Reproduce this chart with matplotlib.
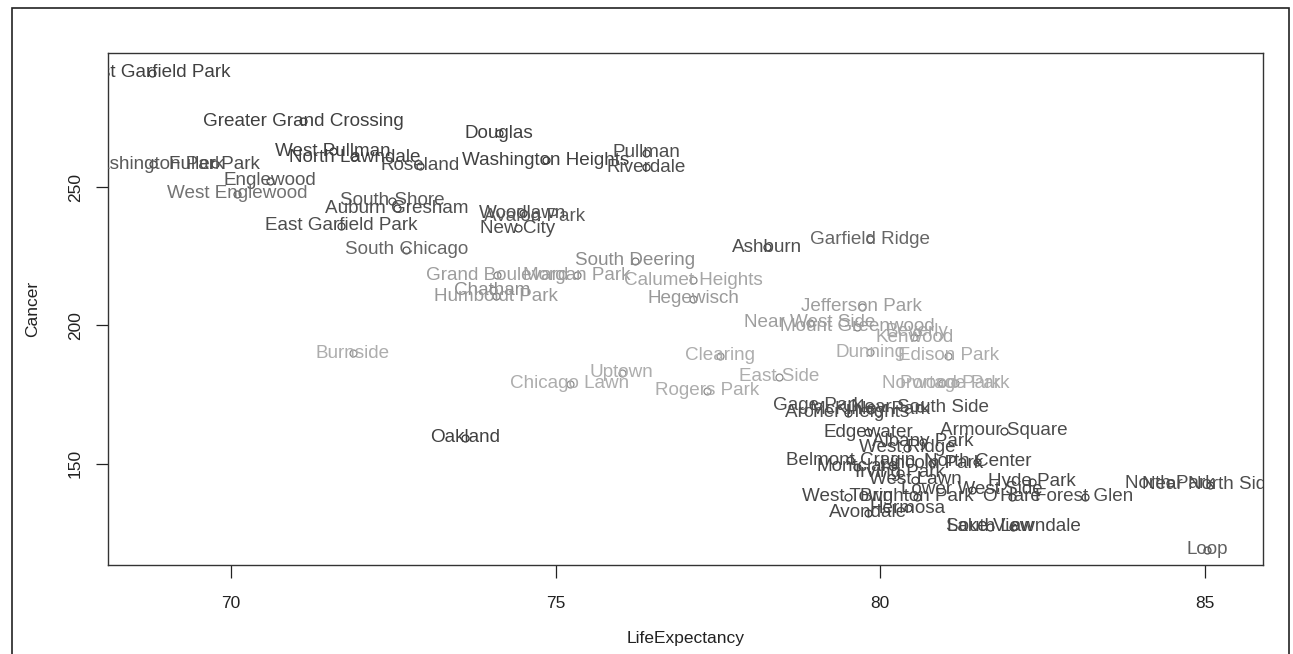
import matplotlib
matplotlib.use("Agg")
import matplotlib.pyplot as plt
from matplotlib.patches import Rectangle

plt.rcParams["font.family"] = ["Liberation Sans", "DejaVu Sans"]

# community areas: life expectancy vs cancer death rate
areas = [
    "West Garfield Park", "Greater Grand Crossing", "Douglas", "West Pullman",
    "North Lawndale", "Roseland", "Washington Park", "Fuller Park",
    "Englewood", "West Englewood", "South Shore", "Auburn Gresham",
    "East Garfield Park", "South Chicago", "Woodlawn", "Avalon Park",
    "New City", "Washington Heights", "Pullman", "Riverdale",
    "Ashburn", "Garfield Ridge", "South Deering", "Grand Boulevard",
    "Morgan Park", "Calumet Heights", "Chatham", "Humboldt Park",
    "Hegewisch", "Jefferson Park", "Near West Side", "Mount Greenwood",
    "Beverly", "Kenwood", "Dunning", "Edison Park",
    "Norwood Park", "Portage Park", "Burnside", "Clearing",
    "Uptown", "Chicago Lawn", "Rogers Park", "East Side",
    "Oakland", "Gage Park", "Archer Heights", "McKinley Park",
    "Near South Side", "Edgewater", "Armour Square", "Albany Park",
    "West Ridge", "Belmont Cragin", "North Center", "Montclare",
    "Irving Park", "Lincoln Park", "West Lawn", "Hyde Park",
    "Lower West Side", "West Town", "Brighton Park", "O'Hare",
    "Forest Glen", "Hermosa", "Avondale", "South Lawndale",
    "Lake View", "North Park", "Near North Side", "Loop",
]
life_expectancy = [
    68.78, 71.11, 74.13, 71.57,
    71.90, 72.91, 68.80, 69.75,
    70.60, 70.09, 72.48, 72.56,
    71.70, 72.70, 74.50, 74.68,
    74.42, 74.85, 76.40, 76.40,
    78.26, 79.85, 76.22, 74.10,
    75.33, 77.12, 74.03, 74.08,
    77.12, 79.72, 78.92, 79.65,
    80.57, 80.53, 79.85, 81.05,
    80.95, 81.15, 71.88, 77.53,
    76.02, 75.22, 77.33, 78.45,
    73.60, 79.04, 79.50, 79.85,
    80.62, 79.82, 81.91, 80.66,
    80.42, 79.54, 81.50, 79.65,
    80.30, 80.80, 80.54, 82.34,
    81.42, 79.50, 80.57, 82.03,
    83.15, 80.43, 79.81, 82.05,
    81.70, 84.47, 85.08, 85.04,
]
cancer = [
    291.2, 273.8, 269.5, 263.0,
    260.8, 257.6, 258.3, 258.3,
    252.2, 247.5, 245.0, 242.4,
    236.0, 227.3, 240.6, 239.5,
    235.2, 259.7, 262.3, 257.2,
    228.3, 231.2, 223.3, 218.2,
    218.2, 216.4, 212.8, 210.6,
    209.6, 206.7, 200.9, 199.5,
    197.7, 195.8, 190.4, 189.0,
    179.2, 179.2, 190.0, 189.0,
    182.9, 178.9, 176.4, 181.4,
    159.4, 171.0, 168.4, 169.5,
    170.2, 161.5, 161.9, 158.0,
    155.8, 151.4, 150.7, 148.9,
    146.8, 150.2, 144.2, 143.5,
    140.6, 138.1, 138.1, 138.1,
    138.1, 134.0, 132.3, 127.3,
    127.3, 143.1, 142.4, 119.0,
]
# grey level of each label (0 = black, 1 = white)
label_grey = [
    0.25, 0.25, 0.25, 0.25,
    0.25, 0.30, 0.35, 0.30,
    0.35, 0.45, 0.35, 0.30,
    0.30, 0.40, 0.30, 0.35,
    0.30, 0.25, 0.30, 0.30,
    0.30, 0.40, 0.55, 0.62,
    0.62, 0.65, 0.55, 0.60,
    0.60, 0.62, 0.62, 0.62,
    0.65, 0.65, 0.68, 0.68,
    0.68, 0.68, 0.68, 0.68,
    0.68, 0.68, 0.68, 0.68,
    0.25, 0.30, 0.30, 0.30,
    0.30, 0.28, 0.30, 0.28,
    0.28, 0.28, 0.28, 0.28,
    0.28, 0.28, 0.28, 0.28,
    0.28, 0.28, 0.28, 0.28,
    0.30, 0.28, 0.28, 0.28,
    0.28, 0.30, 0.30, 0.38,
]

x_ticks = [70, 75, 80, 85]
y_ticks = [150, 200, 250]

W, H = 1293, 654
fig = plt.figure(figsize=(W / 100, H / 100), dpi=100)
ax = fig.add_axes([108 / W, 1 - 565 / H, (1263 - 108) / W, (565 - 53) / H])

for name, x, y, g in zip(areas, life_expectancy, cancer, label_grey):
    c = (g, g, g)
    ax.plot(x, y, "o", mfc="none", mec=(g * 0.8,) * 3, ms=5, mew=0.9,
            clip_on=True)
    ax.text(x, y, name, color=c, fontsize=13.6, ha="center", va="center",
            clip_on=True)

ax.set_xlim(68.105, 85.90)
ax.set_ylim(113.5, 298.4)
ax.set_xticks(x_ticks)
ax.set_yticks(y_ticks)
ax.set_yticklabels([str(v) for v in y_ticks], rotation=90, va="center")
ax.tick_params(axis="both", direction="out", length=9, width=0.9,
               labelsize=12.5, colors="#222222", pad=13)
ax.tick_params(axis="y", pad=9)
for s in ax.spines.values():
    s.set_linewidth(1.0)
    s.set_color("#333333")

ax.set_xlabel("LifeExpectancy", fontsize=12.5, color="#222222", labelpad=15)
ax.set_ylabel("Cancer", fontsize=12.5, color="#222222", labelpad=20)

# frame round the whole page, open at the foot
fig.patches.append(Rectangle((12 / W, -0.02), (1289 - 12) / W, 1.02 - 8 / H,
                             transform=fig.transFigure, fill=False,
                             edgecolor="#222222", linewidth=1.2))

fig.savefig("out.png", dpi=100)
